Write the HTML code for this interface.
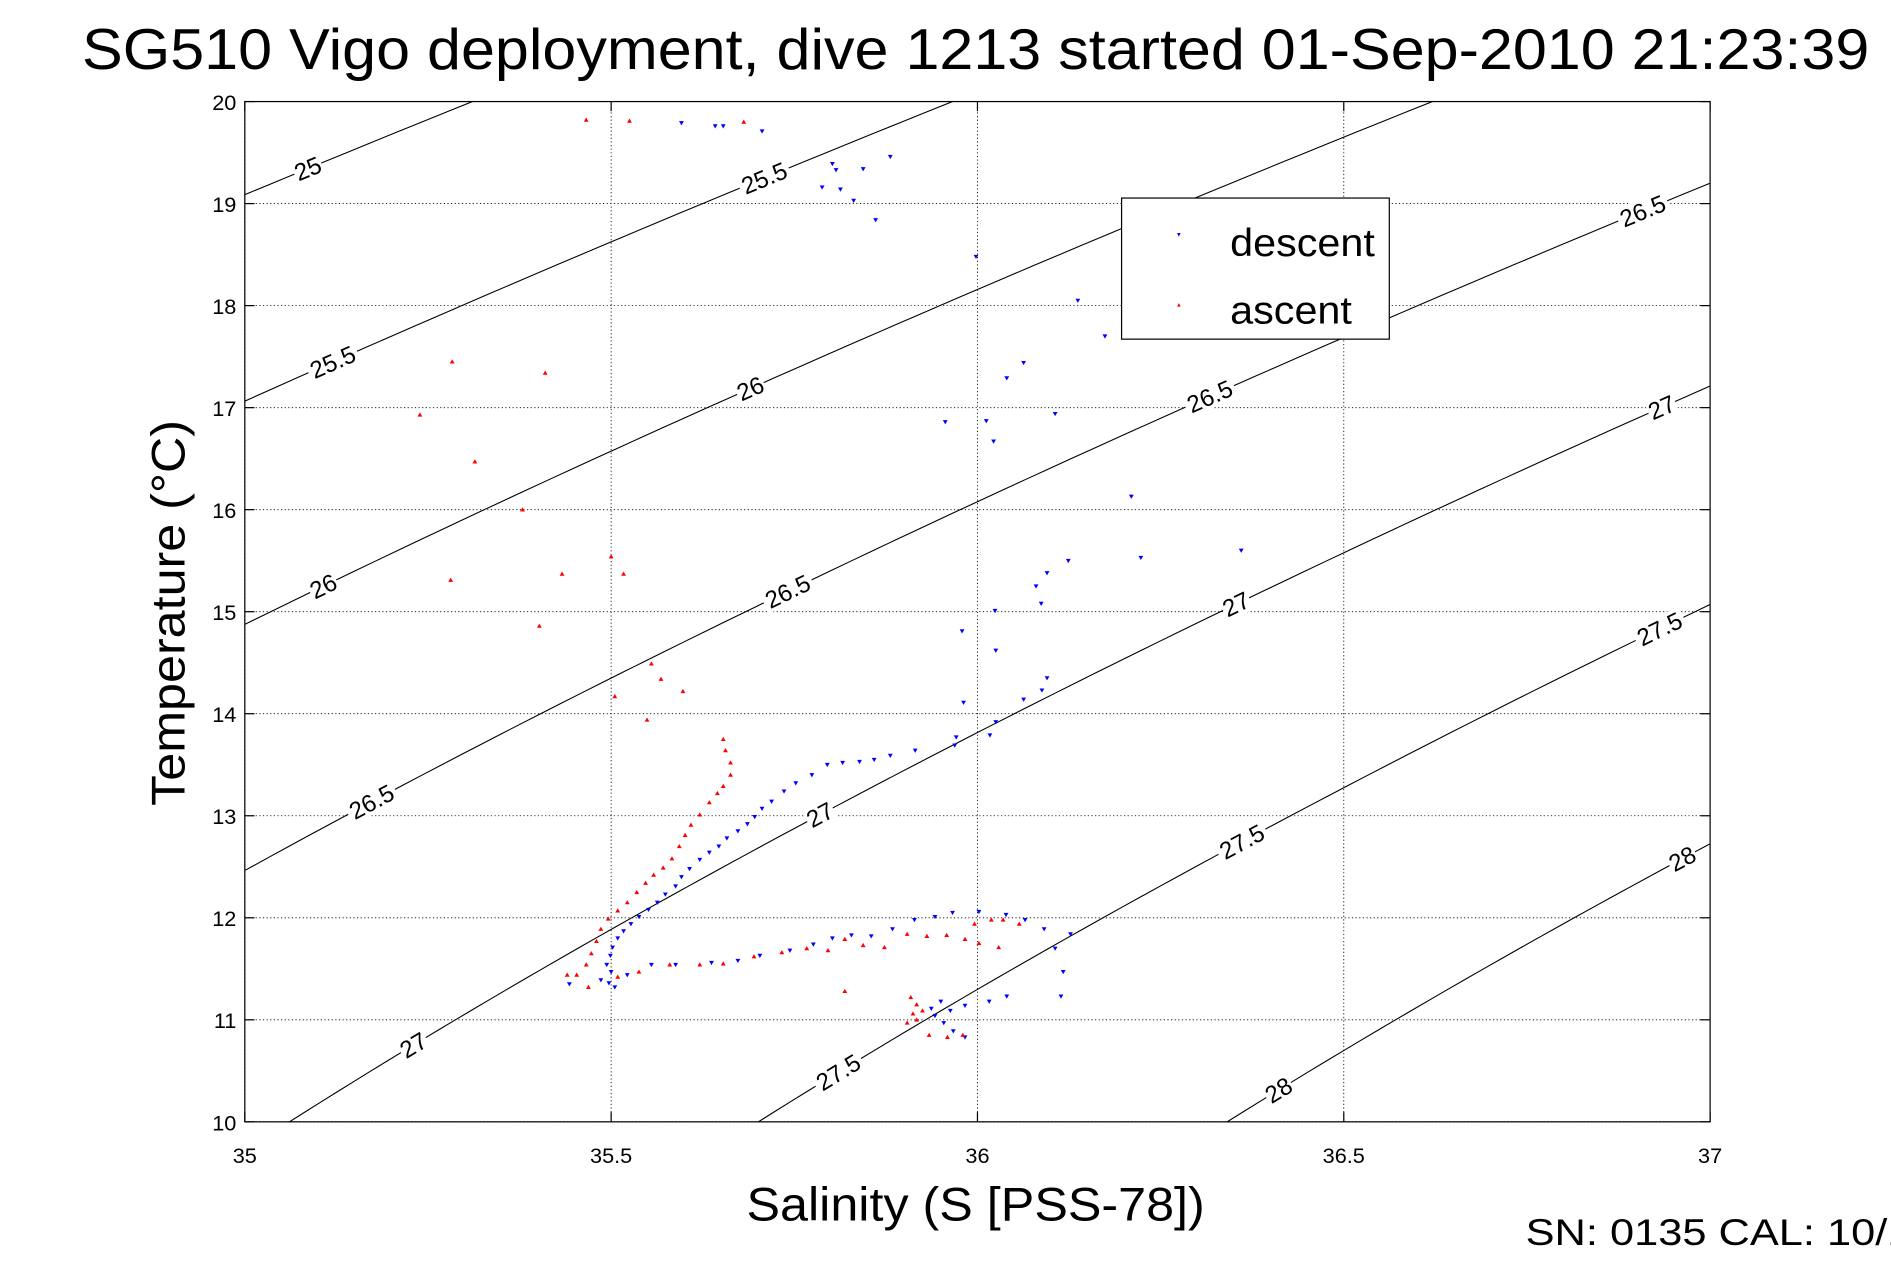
<!DOCTYPE html>
<html><head><meta charset="utf-8"><style>
html,body{margin:0;padding:0;background:#fff;overflow:hidden;width:1891px;height:1262px;}
svg{display:block;position:absolute;left:0;top:0;font-family:"Liberation Sans",sans-serif;}
</style></head><body>
<svg id="chart" width="1891" height="1262" viewBox="0 0 1568 1046" xmlns="http://www.w3.org/2000/svg">
<rect width="1568" height="1046" fill="#fff"/>
<text x="68" y="57" font-size="48" textLength="1482" lengthAdjust="spacingAndGlyphs">SG510 Vigo deployment, dive 1213 started 01-Sep-2010 21:23:39</text>
<defs><clipPath id="clip"><rect x="203" y="84" width="1215" height="846"/></clipPath></defs>
<g id="grid"></g>
<g id="contours" clip-path="url(#clip)"></g>
<g id="clabels"></g>
<g id="points" clip-path="url(#clip)"></g>
<rect x="203" y="84" width="1215" height="846" fill="none" stroke="#000" stroke-width="1"/>
<g id="ticks"></g>
<text x="619" y="1012" font-size="39" textLength="380" lengthAdjust="spacingAndGlyphs">Salinity (S [PSS-78])</text>
<text transform="translate(153,668) rotate(-90)" font-size="39" textLength="320" lengthAdjust="spacingAndGlyphs">Temperature (°C)</text>
<text x="1265" y="1032" font-size="31" textLength="320" lengthAdjust="spacingAndGlyphs">SN: 0135  CAL: 10/1</text>
<g>
<rect x="930" y="164" width="222" height="117" fill="#fff" stroke="#000" stroke-width="1"/>
<path d="M976,193 l3,0 l-1.5,3z" fill="blue"/>
<text x="1020" y="212" font-size="32" textLength="120" lengthAdjust="spacingAndGlyphs">descent</text>
<path d="M976,254 l3,0 l-1.5,-3z" fill="red"/>
<text x="1020" y="268" font-size="32" textLength="101" lengthAdjust="spacingAndGlyphs">ascent</text>
</g>
</svg>
<script>
const xTicks=[35,35.5,36,36.5,37];
const xTickLabels=["35","35.5","36","36.5","37"];
const yTicks=[10,11,12,13,14,15,16,17,18,19,20];
const yTickLabels=["10","11","12","13","14","15","16","17","18","19","20"];
const sigmaLevels=[25,25.5,26,26.5,27,27.5,28];
const contourLabelLevels=[25,25.5,25.5,26,26,26.5,26.5,26.5,26.5,27,27,27,27,27.5,27.5,27.5,28,28];
const contourLabelS=[35.086,35.709,35.120,35.690,35.107,36.908,36.317,35.741,35.173,36.934,36.353,35.785,35.230,36.931,36.361,35.810,36.962,36.411];
const descentS=[35.596,35.642,35.653,35.706,35.802,35.807,35.788,35.813,35.844,35.881,35.831,35.861,35.998,36.137,36.174,36.063,36.040,36.106,35.956,36.012,36.022,36.210,36.223,36.360,36.124,36.095,36.080,36.087,36.024,35.979,36.025,36.095,36.088,36.063,35.981,36.025,36.017,35.971,35.969,35.915,35.881,35.859,35.839,35.816,35.795,35.774,35.752,35.736,
35.719,35.706,35.696,35.686,35.673,35.658,35.647,35.634,35.621,35.607,35.596,35.588,35.574,35.563,35.551,35.538,35.527,35.517,35.509,35.502,35.499,35.494,35.500,35.497,35.505,35.486,35.443,
35.522,35.555,35.588,35.637,35.673,35.703,35.744,35.776,35.802,35.828,35.855,35.884,35.914,35.942,35.966,36.002,36.039,36.065,36.091,36.127,36.106,36.117,36.114,36.040,36.016,35.983,35.963,35.942,35.954,35.967,35.983,35.937,35.950];
const descentT=[19.79,19.76,19.76,19.71,19.39,19.33,19.16,19.14,19.34,19.46,19.03,18.84,18.48,18.05,17.70,17.44,17.29,16.94,16.86,16.87,16.67,16.13,15.53,15.60,15.50,15.38,15.25,15.08,15.01,14.81,14.62,14.35,14.23,14.14,14.11,13.92,13.79,13.77,13.69,13.64,13.59,13.55,13.53,13.52,13.50,13.40,13.32,13.24,
13.14,13.07,12.99,12.92,12.85,12.78,12.70,12.64,12.57,12.48,12.40,12.31,12.23,12.15,12.08,12.01,11.94,11.87,11.80,11.71,11.63,11.54,11.47,11.36,11.32,11.39,11.35,
11.44,11.54,11.54,11.56,11.58,11.63,11.68,11.74,11.80,11.83,11.82,11.89,11.98,12.01,12.05,12.06,12.03,11.98,11.89,11.84,11.70,11.47,11.23,11.23,11.18,11.14,11.09,11.04,10.97,10.89,10.83,11.11,11.18];
const ascentS=[35.466,35.525,35.681,35.283,35.410,35.239,35.314,35.379,35.500,35.517,35.433,35.281,35.402,35.555,35.568,35.598,35.505,35.549,
35.653,35.656,35.663,35.663,35.653,35.645,35.634,35.621,35.609,35.601,35.593,35.583,35.571,35.558,35.547,35.535,35.522,35.509,35.496,35.486,35.480,35.473,35.466,35.453,35.440,35.469,
35.509,35.538,35.580,35.621,35.653,35.695,35.733,35.767,35.796,35.819,35.844,35.873,35.904,35.931,35.958,35.983,36.002,35.996,36.019,36.035,36.057,36.029,35.819,
35.909,35.917,35.912,35.904,35.917,35.925,35.934,35.959,35.980];
const ascentT=[19.82,19.81,19.80,17.45,17.34,16.93,16.47,16.00,15.54,15.37,15.37,15.31,14.86,14.49,14.34,14.22,14.17,13.94,
13.75,13.64,13.52,13.40,13.29,13.22,13.13,13.01,12.91,12.81,12.70,12.58,12.49,12.42,12.34,12.25,12.15,12.07,11.99,11.89,11.77,11.65,11.54,11.44,11.44,11.32,
11.42,11.47,11.54,11.54,11.55,11.62,11.66,11.70,11.68,11.79,11.73,11.71,11.84,11.82,11.83,11.79,11.75,11.94,11.98,11.98,11.94,11.71,11.28,
11.22,11.15,11.06,10.97,11.00,11.09,10.85,10.83,10.85];

const NS='http://www.w3.org/2000/svg';
const X0=203,X1=1418,Y0=930,Y1=84;
function xs(s){return X0+(s-35)/2*(X1-X0);}
function ys(t){return Y0-(t-10)/10*(Y0-Y1);}
function mk(tag,attrs,parent){const e=document.createElementNS(NS,tag);for(const k in attrs)e.setAttribute(k,attrs[k]);parent.appendChild(e);return e;}
function sigma(S,T){
 const rw=999.842594+6.793952e-2*T-9.095290e-3*T*T+1.001685e-4*T**3-1.120083e-6*T**4+6.536332e-9*T**5;
 const r=rw+S*(0.824493-4.0899e-3*T+7.6438e-5*T*T-8.2467e-7*T**3+5.3875e-9*T**4)+S**1.5*(-5.72466e-3+1.0227e-4*T-1.6546e-6*T*T)+4.8314e-4*S*S;
 return r-1000;}
function solveS(sig,T){let a=30,b=42;for(let i=0;i<50;i++){const m=(a+b)/2;if(sigma(m,T)<sig)a=m;else b=m;}return (a+b)/2;}
function solveT(sig,S){let a=0,b=30;for(let i=0;i<50;i++){const m=(a+b)/2;if(sigma(S,m)>sig)a=m;else b=m;}return (a+b)/2;}

const grid=document.getElementById('grid'),ticks=document.getElementById('ticks');
xTicks.forEach((v,i)=>{
 const x=xs(v);
 const g=mk('line',{x1:x,x2:x,y1:Y1,y2:Y0,stroke:'#000','stroke-width':0.7,'stroke-dasharray':'1,2'},grid);
 
 
 const t=mk('text',{x:x,y:964,'font-size':18,'text-anchor':'middle'},ticks);
 t.textContent=xTickLabels[i];
 
 
 mk('line',{x1:x,x2:x,y1:Y0,y2:Y0-8,stroke:'#000'},ticks);
 mk('line',{x1:x,x2:x,y1:Y1,y2:Y1+8,stroke:'#000'},ticks);
});
yTicks.forEach((v,i)=>{
 const y=ys(v);
 const g=mk('line',{x1:X0,x2:X1,y1:y,y2:y,stroke:'#000','stroke-width':0.7,'stroke-dasharray':'1,2'},grid);
 
 
 const t=mk('text',{x:196,y:y+7,'font-size':18,'text-anchor':'end'},ticks);
 t.textContent=yTickLabels[i];
 
 
 mk('line',{x1:X0,x2:X0+8,y1:y,y2:y,stroke:'#000'},ticks);
 mk('line',{x1:X1,x2:X1-8,y1:y,y2:y,stroke:'#000'},ticks);
});
const cg=document.getElementById('contours');
sigmaLevels.forEach(lv=>{
 let d='';
 for(let T=8;T<=22.001;T+=0.1){const S=solveS(lv,T);d+=(d?'L':'M')+xs(S).toFixed(2)+','+ys(T).toFixed(2);}
 const p=mk('path',{d:d,fill:'none',stroke:'#000','stroke-width':0.9},cg);
 
 
});
const lg=document.getElementById('clabels');
contourLabelLevels.forEach((lv,i)=>{
 const S=contourLabelS[i];
 const T=solveT(lv,S);
 const x=xs(S),y=ys(T);
 const T2=solveT(lv,S+0.05),T1=solveT(lv,S-0.05);
 const ang=Math.atan2(ys(T2)-ys(T1),xs(S+0.05)-xs(S-0.05))*180/Math.PI;
 const txt=String(lv);
 const w=txt.length*10+4;
 const g=mk('g',{transform:`translate(${x},${y}) rotate(${ang})`},lg);
 
 
 mk('rect',{x:-w/2,y:-10,width:w,height:20,fill:'#fff'},g);
 const t=mk('text',{x:0,y:7,'font-size':20,'text-anchor':'middle'},g);
 t.textContent=txt;
});
const pg=document.getElementById('points');
descentS.forEach((s,i)=>{
 const x=xs(s),y=ys(descentT[i]);
 const p=mk('path',{d:`M${x-2},${y-1.5}L${x+2},${y-1.5}L${x},${y+2}Z`,fill:'blue'},pg);
 
 
});
ascentS.forEach((s,i)=>{
 const x=xs(s),y=ys(ascentT[i]);
 const p=mk('path',{d:`M${x-2},${y+1.5}L${x+2},${y+1.5}L${x},${y-2}Z`,fill:'red'},pg);
 
 
});
</script>
</body></html>
